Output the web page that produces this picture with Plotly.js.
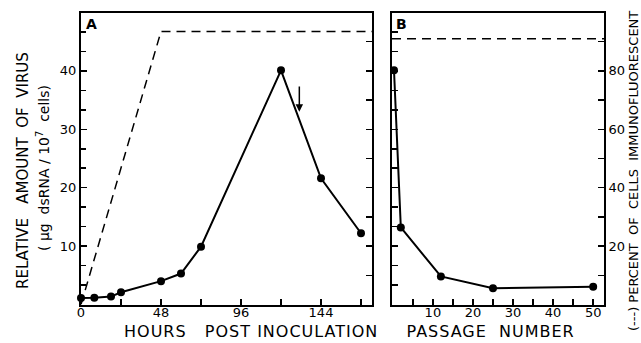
<!DOCTYPE html>
<html>
<head>
<meta charset="utf-8">
<script src="https://cdn.plot.ly/plotly-3.0.1.min.js"></script>
<style>
html,body{margin:0;padding:0;background:#fff;}
#chart{width:641px;height:343px;}
</style>
</head>
<body>
<div id="chart"></div>
<script>
// Panel A: hours post-inoculation vs. virus (µg dsRNA / 10^7 cells)
var hoursA = [0, 8, 18, 24, 48, 60, 72, 120, 144, 168];
var virusA = [1.1, 1.15, 1.35, 2.1, 4.0, 5.3, 9.9, 40.1, 21.6, 12.2];
// Panel A dashed: percent of cells immunofluorescent
var dashHoursA = [0, 48, 175];
var dashPctA = [0, 93.5, 93.5];
// Panel B: passage number vs. virus
var passageB = [0.3, 2, 12, 25, 50];
var virusB = [40.1, 13.2, 4.8, 2.8, 3.05];
// Panel B dashed: percent immunofluorescent
var dashPassageB = [-0.2, 53];
var dashPctB = [91, 91];
// Arrow marker in panel A
var arrowHour = 131, arrowFrom = 37.6, arrowTo = 33.0;

var xTicksA = [0, 48, 96, 144];
var xTicksB = [10, 20, 30, 40, 50];
var yTicks = [10, 20, 30, 40];
var pctTicks = [20, 40, 60, 80];

var FONT = 'DejaVu Sans, Arial, sans-serif';
var W = 641, H = 343;
var yDom = [1 - 304.5 / H, 1 - 12.5 / H];

var solid = {color: 'black', width: 2};
var dashed = {color: 'black', width: 1.5, dash: '9px,6px'};
var mk = {color: 'black', size: 8};

var traces = [
  {x: dashHoursA, y: dashPctA, xaxis: 'x', yaxis: 'y3', mode: 'lines', line: dashed, hoverinfo: 'skip'},
  {x: hoursA, y: virusA, xaxis: 'x', yaxis: 'y', mode: 'lines+markers', line: solid, marker: mk, cliponaxis: false},
  {x: dashPassageB, y: dashPctB, xaxis: 'x2', yaxis: 'y4', mode: 'lines', line: dashed, hoverinfo: 'skip'},
  {x: passageB, y: virusB, xaxis: 'x2', yaxis: 'y2', mode: 'lines+markers', line: solid, marker: mk, cliponaxis: false}
];

var tickFont = {family: FONT, size: 13, color: 'black'};
var axBase = {showgrid: false, zeroline: false, showline: true, linecolor: 'black', linewidth: 2,
  ticks: 'inside', ticklen: 6, tickwidth: 1.5, tickcolor: 'black', tickfont: tickFont, fixedrange: true};

function ax(extra) { return Object.assign({}, axBase, extra); }

var layout = {
  width: W, height: H,
  margin: {l: 0, r: 0, t: 0, b: 0},
  paper_bgcolor: 'white', plot_bgcolor: 'white',
  showlegend: false,
  font: {family: FONT, color: 'black'},
  xaxis: ax({domain: [81 / W, 372 / W], range: [0, 174.6], tickmode: 'array', tickvals: xTicksA,
    mirror: true, anchor: 'y', ticklabelstandoff: -5,
    minor: {tickmode: 'linear', tick0: 0, dtick: 24, ticks: 'inside', ticklen: 6, tickwidth: 1.5, tickcolor: 'black'}}),
  yaxis: ax({domain: yDom, range: [0, 50], tickmode: 'array', tickvals: yTicks, anchor: 'x',
    minor: {tickmode: 'linear', tick0: 0, dtick: 10 / 3, ticks: 'inside', ticklen: 5, tickwidth: 1.5, tickcolor: 'black'}}),
  yaxis3: ax({domain: yDom, range: [0, 100], overlaying: 'y', side: 'right', anchor: 'x',
    tickmode: 'linear', tick0: 0, dtick: 10, showticklabels: false}),
  xaxis2: ax({domain: [392 / W, 604 / W], range: [-0.2, 52.7], tickmode: 'array', tickvals: xTicksB,
    mirror: true, anchor: 'y2', ticklabelstandoff: -5,
    minor: {tickmode: 'linear', tick0: 0, dtick: 5, ticks: 'inside', ticklen: 6, tickwidth: 1.5, tickcolor: 'black'}}),
  yaxis2: ax({domain: yDom, range: [0, 50], tickmode: 'linear', tick0: 0, dtick: 10 / 3,
    showticklabels: false, anchor: 'x2'}),
  yaxis4: ax({domain: yDom, range: [0, 100], overlaying: 'y2', side: 'right', anchor: 'x2',
    tickmode: 'array', tickvals: pctTicks,
    minor: {tickmode: 'linear', tick0: 0, dtick: 10, ticks: 'inside', ticklen: 6, tickwidth: 1.5, tickcolor: 'black'}}),
  annotations: [
    {xref: 'paper', yref: 'paper', x: 251 / W, y: 1 - 331 / H, text: 'HOURS   POST INOCULATION',
      showarrow: false, font: {family: FONT, size: 16, color: 'black'}, xanchor: 'center', yanchor: 'middle'},
    {xref: 'paper', yref: 'paper', x: 490 / W, y: 1 - 331 / H, text: 'PASSAGE  NUMBER',
      showarrow: false, font: {family: FONT, size: 16, color: 'black'}, xanchor: 'center', yanchor: 'middle'},
    {xref: 'paper', yref: 'paper', x: 23 / W, y: 1 - 171 / H, text: 'RELATIVE   AMOUNT  OF  VIRUS',
      textangle: -90, showarrow: false, font: {family: FONT, size: 15, color: 'black'}, xanchor: 'center', yanchor: 'middle'},
    {xref: 'paper', yref: 'paper', x: 43 / W, y: 1 - 168 / H, text: '( \u03bcg  dsRNA / 10<sup>7</sup>  cells)',
      textangle: -90, showarrow: false, font: {family: FONT, size: 14, color: 'black'}, xanchor: 'center', yanchor: 'middle'},
    {xref: 'paper', yref: 'paper', x: 634 / W, y: 1 - 171 / H, text: '(---) PERCENT  OF  CELLS  IMMUNOFLUORESCENT',
      textangle: -90, showarrow: false, font: {family: FONT, size: 13, color: 'black'}, xanchor: 'center', yanchor: 'middle'},
    {xref: 'paper', yref: 'paper', x: 84 / W, y: 1 - 14 / H, text: '<b>A</b>',
      showarrow: false, font: {family: FONT, size: 14, color: 'black'}, xanchor: 'left', yanchor: 'top'},
    {xref: 'paper', yref: 'paper', x: 394 / W, y: 1 - 14 / H, text: '<b>B</b>',
      showarrow: false, font: {family: FONT, size: 14, color: 'black'}, xanchor: 'left', yanchor: 'top'},
    {xref: 'x', yref: 'y', x: arrowHour, y: arrowTo, axref: 'x', ayref: 'y', ax: arrowHour, ay: arrowFrom,
      text: '', showarrow: true, arrowhead: 2, arrowsize: 1, arrowwidth: 1.5, arrowcolor: 'black', standoff: 0}
  ]
};

Plotly.newPlot('chart', traces, layout, {displayModeBar: false, staticPlot: true}).then(function () {
  document.querySelectorAll('.annotation-text').forEach(function (t) {
    var s = t.textContent;
    if (s.indexOf('HOURS') === 0 || s.indexOf('PASSAGE') === 0) {
      t.style.letterSpacing = '1px';
    }
  });
});
</script>
</body>
</html>
